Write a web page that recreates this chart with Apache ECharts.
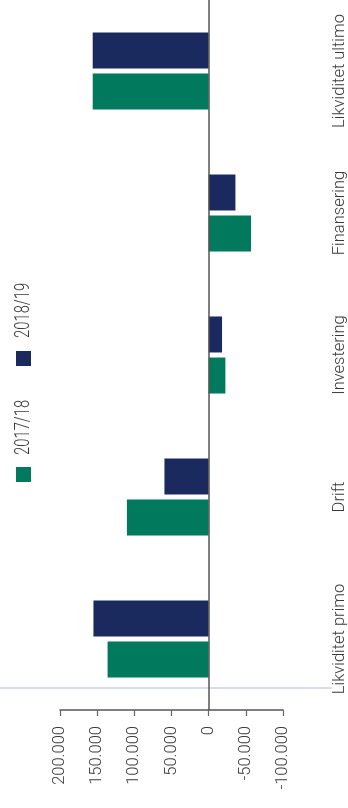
<!DOCTYPE html>
<html>
<head>
<meta charset="utf-8">
<script src="https://cdn.jsdelivr.net/npm/echarts@6/dist/echarts.min.js"></script>
<style>
  html, body { margin: 0; padding: 0; background: #fff; }
  #chart { width: 348px; height: 808px; }
</style>
</head>
<body>
<div id="chart"></div>
<script>
// Kontantstrøm: likviditet primo -> ultimo, to regnskapsår
const categories = ['Likviditet primo', 'Drift', 'Investering', 'Finansering', 'Likviditet ultimo'];
const seriesNames = ['2017/18', '2018/19'];
const values2017 = [136000, 110000, -22500, -57000, 156000];
const values2018 = [155000, 59500, -18000, -36000, 156000];
const valueTicks = { min: -100000, max: 200000, interval: 50000 };

const GREEN = '#00795c';
const NAVY = '#1a2a5e';
const TEXT = '#3a3a3a';
const FONT = 'Roboto, "Liberation Sans", Arial, sans-serif';

function fmt(v) {
  const s = Math.abs(v).toString().replace(/\B(?=(\d{3})+(?!\d))/g, '.');
  return (v < 0 ? '-' : '') + s;
}

// vertical legend entry: square below, label reading upwards
function legendItem(name, color, squareY, textY) {
  return {
    type: 'group',
    children: [
      { type: 'rect', shape: { x: 16, y: squareY, width: 15, height: 15 }, style: { fill: color } },
      {
        type: 'text', x: 23.5, y: textY, rotation: Math.PI / 2, scaleX: 0.74,
        style: { text: name, fill: TEXT, font: '300 20px ' + FONT, align: 'left', verticalAlign: 'middle' }
      }
    ]
  };
}

const chart = echarts.init(document.getElementById('chart'), null, { renderer: 'canvas' });
chart.setOption({
  animation: false,
  backgroundColor: '#fff',
  grid: { left: 60, right: 65, top: 0, bottom: 98, containLabel: false },
  xAxis: {
    type: 'value',
    inverse: true,
    min: valueTicks.min, max: valueTicks.max, interval: valueTicks.interval,
    splitLine: { show: false },
    axisLine: { show: true, onZero: false, lineStyle: { color: '#555', width: 1.5 } },
    axisTick: { show: true, length: 6, lineStyle: { color: '#666', width: 1.2 } },
    axisLabel: {
      rotate: 90, margin: 16, color: TEXT, fontSize: 16.5, fontWeight: 300, fontFamily: FONT,
      formatter: fmt
    }
  },
  yAxis: {
    type: 'category',
    position: 'right',
    data: categories,
    axisLine: { show: false },
    axisTick: { show: false },
    axisLabel: {
      interval: 0, hideOverlap: false,
      rotate: 90, margin: 48, color: TEXT, fontSize: 16.5, fontWeight: 300, fontFamily: FONT
    }
  },
  graphic: [
    { type: 'line', z: -1, shape: { x1: 0, y1: 688, x2: 332, y2: 688 }, style: { stroke: '#cdd2e2', lineWidth: 1.5 } },
    legendItem(seriesNames[0], GREEN, 467, 455),
    legendItem(seriesNames[1], NAVY, 351, 338)
  ],
  series: [
    {
      name: seriesNames[1], type: 'bar', data: values2018,
      barWidth: 36, barGap: '14%',
      itemStyle: { color: NAVY },
      markLine: {
        silent: true, symbol: ['none', 'none'], animation: false,
        label: { show: false },
        lineStyle: { color: '#555', width: 1.5, type: 'solid' },
        data: [{ xAxis: 0 }]
      }
    },
    {
      name: seriesNames[0], type: 'bar', data: values2017,
      barWidth: 36, barGap: '14%',
      itemStyle: { color: GREEN }
    }
  ]
});
</script>
</body>
</html>
